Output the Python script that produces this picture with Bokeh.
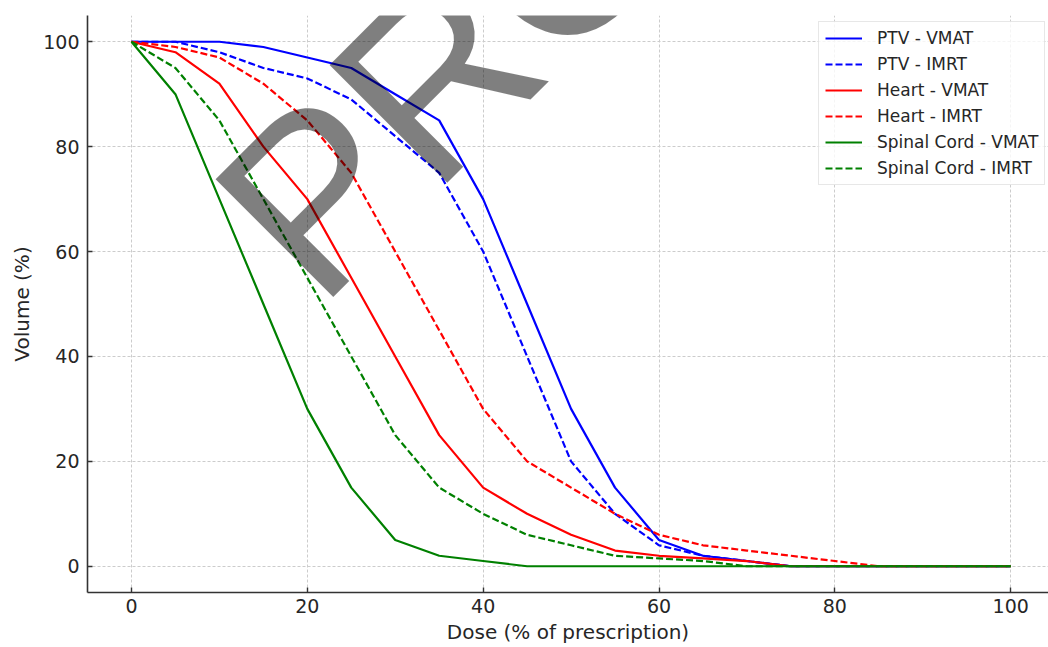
from bokeh.plotting import figure
from bokeh.models import Range1d, FixedTicker, Legend, LegendItem, Label
from bokeh.embed import file_html
from bokeh.resources import INLINE

# ---- data ----
dose = [0, 5, 10, 15, 20, 25, 30, 35, 40, 45, 50, 55, 60, 65, 70, 75, 80, 85, 90, 95, 100]
ptv_vmat = [100, 100, 100, 99, 97, 95, 90, 85, 70, 50, 30, 15, 5, 2, 1, 0, 0, 0, 0, 0, 0]
ptv_imrt = [100, 100, 98, 95, 93, 89, 82, 75, 60, 40, 20, 10, 4, 2, 1, 0, 0, 0, 0, 0, 0]
heart_vmat = [100, 98, 92, 80, 70, 55, 40, 25, 15, 10, 6, 3, 2, 1.5, 1, 0, 0, 0, 0, 0, 0]
heart_imrt = [100, 99, 97, 92, 85, 75, 60, 45, 30, 20, 15, 10, 6, 4, 3, 2, 1, 0, 0, 0, 0]
cord_vmat = [100, 90, 70, 50, 30, 15, 5, 2, 1, 0, 0, 0, 0, 0, 0, 0, 0, 0, 0, 0, 0]
cord_imrt = [100, 95, 85, 70, 55, 40, 25, 15, 10, 6, 4, 2, 1.5, 1, 0, 0, 0, 0, 0, 0, 0]

series_names = ["PTV - VMAT", "PTV - IMRT", "Heart - VMAT", "Heart - IMRT",
                "Spinal Cord - VMAT", "Spinal Cord - IMRT"]
series_values = [ptv_vmat, ptv_imrt, heart_vmat, heart_imrt, cord_vmat, cord_imrt]
series_colors = ["#0000ff", "#0000ff", "#ff0000", "#ff0000", "#008000", "#008000"]
series_dash = ["solid", "7 3", "solid", "7 3", "solid", "7 3"]

tick_values = [0, 20, 40, 60, 80, 100]
x_label = "Dose (% of prescription)"
y_label = "Volume (%)"
watermark = "PRO"

FONT = "DejaVu Sans"
TXT = "#262626"

p = figure(width=1048, height=647, output_backend="svg", toolbar_location=None,
           x_range=Range1d(-5, 104.3), y_range=Range1d(-5, 105),
           min_border_left=87, min_border_right=0, min_border_top=15, min_border_bottom=55)
p.outline_line_color = None
p.background_fill_color = "white"
p.border_fill_color = "white"

items = []
for name, vals, col, dash in zip(series_names, series_values, series_colors, series_dash):
    r = p.line(dose, vals, line_color=col, line_width=2.2, line_dash=dash)
    items.append(LegendItem(label=name, renderers=[r]))

for ax, lab in ((p.xaxis[0], x_label), (p.yaxis[0], y_label)):
    ax.ticker = FixedTicker(ticks=tick_values)
    ax.axis_label = lab
    ax.axis_label_text_font = FONT
    ax.axis_label_text_font_size = "20px"
    ax.axis_label_text_font_style = "normal"
    ax.axis_label_text_color = TXT
    ax.major_label_text_font = FONT
    ax.major_label_text_font_size = "19px"
    ax.major_label_text_color = TXT
    ax.axis_line_color = "#333333"
    ax.axis_line_width = 1.6
    ax.major_tick_line_color = "#333333"
    ax.major_tick_line_width = 1.4
    ax.major_tick_in = 5
    ax.major_tick_out = 0
    ax.minor_tick_line_color = None

p.xaxis.major_label_standoff = 6
p.xaxis.axis_label_standoff = 4
p.yaxis.major_label_standoff = 8
p.yaxis.axis_label_standoff = 6

for g in (p.xgrid[0], p.ygrid[0]):
    g.ticker = FixedTicker(ticks=tick_values)
    g.grid_line_color = "#cccccc"
    g.grid_line_dash = "3 2"
    g.grid_line_width = 1

legend = Legend(items=items, location=(731, 407))
legend.label_text_font = FONT
legend.label_text_font_size = "17px"
legend.label_text_color = TXT
legend.glyph_width = 37
legend.glyph_height = 20
legend.label_height = 20
legend.label_standoff = 15
legend.spacing = 6
legend.padding = 6
legend.margin = 0
legend.border_line_color = "#d0d0d0"
legend.border_line_width = 1
legend.background_fill_color = "white"
legend.background_fill_alpha = 0.8
p.add_layout(legend, "center")

wm = Label(x=14.6, y=60.0, text=watermark, angle=45, angle_units="deg",
           text_font="Liberation Sans", text_font_size="242px",
           text_color="black", text_alpha=0.5,
           text_align="left", text_baseline="alphabetic")
p.add_layout(wm)

open("out.html", "w").write(file_html(p, INLINE))
